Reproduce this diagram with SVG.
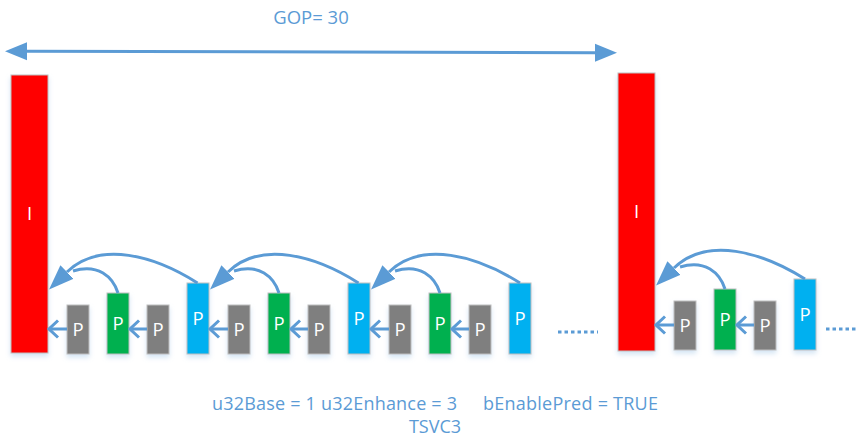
<svg xmlns="http://www.w3.org/2000/svg" width="858" height="440" viewBox="0 0 858 440">
  <style>
    .frame { stroke: #BFBFBF; stroke-width: 1; filter: url(#shade); }
    .i { fill: #FF0000; }
    .g { fill: #00B050; }
    .b { fill: #00B0F0; }
    .p { fill: #7F7F7F; }
    .lbl { font-family: "Open Sans", "Noto Sans", sans-serif; font-size: 18.5px; fill: #FFFFFF; text-anchor: middle; }
    .cap { font-family: "Open Sans", "Noto Sans", sans-serif; font-size: 18px; fill: #5B9BD5; }
    .ln { fill: none; stroke: #5B9BD5; stroke-width: 3; }
    .ref { marker-end: url(#chev); }
    .big { marker-end: url(#head); }
    .dots { stroke: #5B9BD5; stroke-width: 3; stroke-dasharray: 3.5 3; }
  </style>
  <defs>
    <filter id="shade" x="-50%" y="-10%" width="200%" height="130%">
      <feDropShadow dx="0" dy="3" stdDeviation="2.5" flood-color="#9DC3E6" flood-opacity="0.45"/>
    </filter>
    <!-- filled head, base sits on the path end -->
    <marker id="head" markerUnits="userSpaceOnUse" viewBox="0 -10 26 20" refX="0" refY="0" markerWidth="26" markerHeight="20" orient="auto-start-reverse">
      <polygon points="0,-9.5 25,0 0,9.5" fill="#5B9BD5"/>
    </marker>
    <marker id="gop" markerUnits="userSpaceOnUse" viewBox="0 -10 24 20" refX="0" refY="0" markerWidth="24" markerHeight="20" orient="auto-start-reverse">
      <polygon points="0,-9 22,0 0,9" fill="#5B9BD5"/>
    </marker>
    <!-- open chevron, tip on the path end -->
    <marker id="chev" markerUnits="userSpaceOnUse" viewBox="-12 -11 14 22" refX="0" refY="0" markerWidth="14" markerHeight="22" orient="auto">
      <path d="M-9,-8.5 L0,0 L-9,8.5" fill="none" stroke="#5B9BD5" stroke-width="3"/>
    </marker>
  </defs>

  <!-- GOP span -->
  <g id="gop-span">
    <path class="ln" d="M27,51.3 L595,52.7" marker-start="url(#gop)" marker-end="url(#gop)"/>
    <text class="cap" x="311" y="24" text-anchor="middle" style="font-size:18.5px">GOP= 30</text>
  </g>

  <!-- first GOP -->
  <g id="I1"><rect class="frame i" x="11" y="75" width="37" height="278"/><text class="lbl" x="29.5" y="220">I</text></g>
  <g id="P1"><rect class="frame p" x="67" y="305" width="22" height="49"/><text class="lbl" x="78" y="336">P</text></g>
  <g id="P2"><rect class="frame g" x="107" y="293" width="22" height="61"/><text class="lbl" x="118" y="330">P</text></g>
  <g id="P3"><rect class="frame p" x="147" y="305" width="22" height="49"/><text class="lbl" x="158" y="336">P</text></g>
  <g id="P4"><rect class="frame b" x="187" y="283" width="22" height="71"/><text class="lbl" x="198" y="325">P</text></g>
  <g id="P5"><rect class="frame p" x="228" y="305" width="22" height="49"/><text class="lbl" x="239" y="336">P</text></g>
  <g id="P6"><rect class="frame g" x="268" y="293" width="22" height="61"/><text class="lbl" x="279" y="330">P</text></g>
  <g id="P7"><rect class="frame p" x="308" y="305" width="22" height="49"/><text class="lbl" x="319" y="336">P</text></g>
  <g id="P8"><rect class="frame b" x="348" y="283" width="22" height="71"/><text class="lbl" x="359" y="325">P</text></g>
  <g id="P9"><rect class="frame p" x="389" y="305" width="22" height="49"/><text class="lbl" x="400" y="336">P</text></g>
  <g id="P10"><rect class="frame g" x="429" y="293" width="22" height="61"/><text class="lbl" x="440" y="330">P</text></g>
  <g id="P11"><rect class="frame p" x="469" y="305" width="22" height="49"/><text class="lbl" x="480" y="336">P</text></g>
  <g id="P12"><rect class="frame b" x="509" y="283" width="22" height="71"/><text class="lbl" x="520" y="325">P</text></g>

  <!-- second GOP -->
  <g id="I2"><rect class="frame i" x="618" y="73" width="37" height="278"/><text class="lbl" x="636.5" y="218">I</text></g>
  <g id="Q1"><rect class="frame p" x="674" y="301" width="22" height="49"/><text class="lbl" x="685" y="332">P</text></g>
  <g id="Q2"><rect class="frame g" x="714" y="289" width="22" height="61"/><text class="lbl" x="725" y="326">P</text></g>
  <g id="Q3"><rect class="frame p" x="754" y="301" width="22" height="49"/><text class="lbl" x="765" y="332">P</text></g>
  <g id="Q4"><rect class="frame b" x="794" y="279" width="22" height="71"/><text class="lbl" x="805" y="321">P</text></g>

  <!-- references -->
  <g id="connectors">
    <!-- short references -->
    <path class="ln ref" d="M67,329 L49,329"/>
    <path class="ln ref" d="M147,329 L130,329"/>
    <path class="ln ref" d="M228,329 L210,329"/>
    <path class="ln ref" d="M308,329 L291,329"/>
    <path class="ln ref" d="M389,329 L371,329"/>
    <path class="ln ref" d="M469,329 L452,329"/>
    <path class="ln ref" d="M674,325 L656,325"/>
    <path class="ln ref" d="M754,325 L737,325"/>

    <!-- long references -->
    <path class="ln big" d="M197.5,283 C155,256 100,240 67,272"/>
    <path class="ln" d="M118,293 C113,277 98,263 73,271"/>

    <path class="ln big" d="M358.5,283 C316,256 261,240 228,272"/>
    <path class="ln" d="M279,293 C274,277 259,263 234,271"/>

    <path class="ln big" d="M520,283 C477,256 422,240 389,272"/>
    <path class="ln" d="M440,293 C435,277 420,263 395,271"/>

    <path class="ln big" d="M805,279 C762,252 707,236 674,268"/>
    <path class="ln" d="M725,289 C720,273 705,259 680,267"/>

    <line class="dots" x1="558" y1="332" x2="598" y2="332"/>
    <line class="dots" x1="826" y1="329" x2="858" y2="329"/>
  </g>

  <!-- settings -->
  <g id="settings">
    <text class="cap" x="212" y="410" textLength="245" lengthAdjust="spacing">u32Base = 1 u32Enhance = 3</text>
    <text class="cap" x="483" y="410" textLength="175" lengthAdjust="spacing">bEnablePred = TRUE</text>
    <text class="cap" x="435" y="433" text-anchor="middle">TSVC3</text>
  </g>
</svg>
